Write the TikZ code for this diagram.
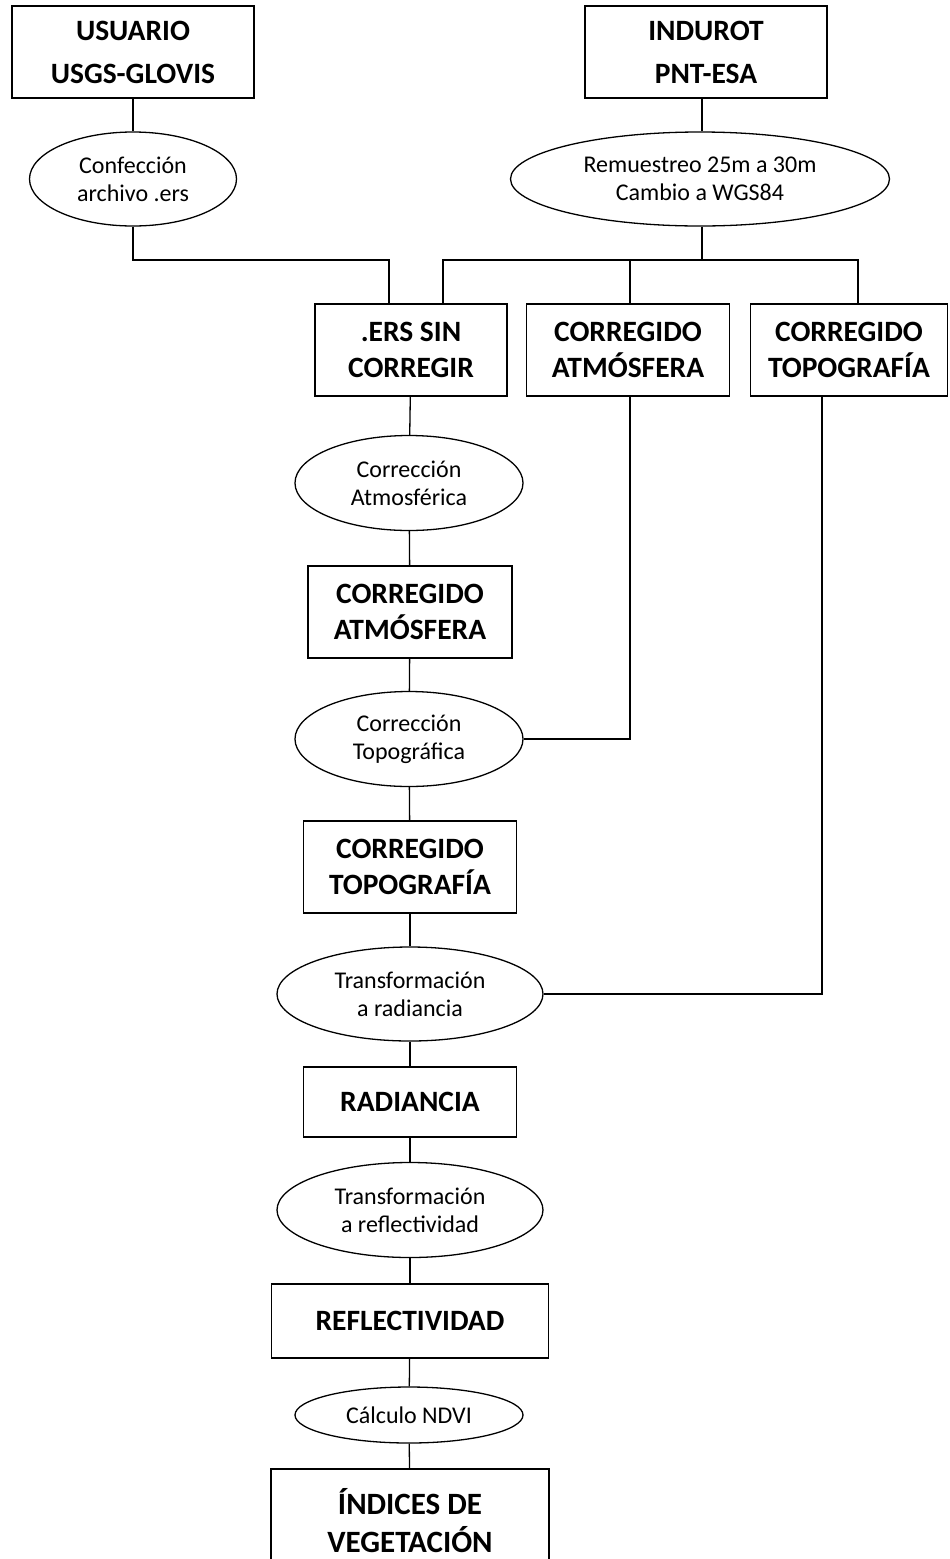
\documentclass[tikz,border=0pt]{standalone}
\usepackage{fontspec}
\setmainfont{Carlito}
\usetikzlibrary{shapes.geometric}
\begin{document}
\begin{tikzpicture}[x=1pt,y=-1pt,line width=1.3pt,
 box/.style={draw, rectangle, inner sep=0pt, align=center, font=\fontsize{29.5}{36}\selectfont\bfseries},
 topbox/.style={box, font=\fontsize{29.5}{43}\selectfont\bfseries},
 proc/.style={draw, ellipse, inner sep=0pt, align=center, font=\fontsize{24}{28}\selectfont},
]
\useasboundingbox (0,0) rectangle (950,1559);
% top sources
\node[topbox, minimum width=242pt, minimum height=92pt] (usuario) at (133,52) {USUARIO\\USGS-GLOVIS};
\node[topbox, minimum width=242pt, minimum height=92pt] (indurot) at (706,52) {INDUROT\\PNT-ESA};
\node[proc, minimum width=207pt, minimum height=94pt] (confec) at (133,179) {Confección\\archivo .ers};
\node[proc, minimum width=379pt, minimum height=94pt] (remues) at (700,179) {Remuestreo 25m a 30m\\Cambio a WGS84};
% second row
\node[box, minimum width=192pt, minimum height=92pt] (ers) at (411,350) {.ERS SIN\\CORREGIR};
\node[box, minimum width=203pt, minimum height=92pt] (atmA) at (628,350) {CORREGIDO\\ATMÓSFERA};
\node[box, minimum width=197pt, minimum height=92pt] (topoA) at (849,350) {CORREGIDO\\TOPOGRAFÍA};
% main column
\node[proc, minimum width=228pt, minimum height=95pt] (corrAtm) at (409,483) {Corrección\\Atmosférica};
\node[box, minimum width=204pt, minimum height=92pt] (atmB) at (410,612) {CORREGIDO\\ATMÓSFERA};
\node[proc, minimum width=228pt, minimum height=95pt] (corrTopo) at (409,739) {Corrección\\Topográfica};
\node[box, minimum width=213pt, minimum height=92pt] (topoB) at (410,867) {CORREGIDO\\TOPOGRAFÍA};
\node[proc, minimum width=266pt, minimum height=94pt] (transRad) at (410,994) {Transformación\\a radiancia};
\node[box, minimum width=213pt, minimum height=70pt] (rad) at (410,1102) {RADIANCIA};
\node[proc, minimum width=266pt, minimum height=95pt] (transRef) at (410,1210) {Transformación\\a reflectividad};
\node[box, minimum width=277pt, minimum height=74pt] (refl) at (410,1321) {REFLECTIVIDAD};
\node[proc, minimum width=228pt, minimum height=56pt] (ndvi) at (409,1415) {Cálculo NDVI};
\node[box, minimum width=278pt, minimum height=104pt, font=\fontsize{31}{38}\selectfont\bfseries] (indices) at (410,1521) {ÍNDICES DE\\VEGETACIÓN};
% junction coordinates
\coordinate (jL) at (389,260);
\coordinate (jR) at (702,260);
\coordinate (jR1) at (443,260);
\coordinate (jR2) at (630,260);
\coordinate (jR3) at (858,260);
% connectors
\draw (usuario) -- (confec);
\draw (indurot.south -| jR) -- (remues.north -| jR);
\draw (confec.south) |- (jL) -- (jL |- ers.north);
\draw (remues.south -| jR) -- (jR);
\draw (jR1 |- ers.north) -- (jR1) -- (jR3) -- (jR3 |- topoA.north);
\draw (jR2) -- (jR2 |- atmA.north);
\draw (ers) -- (corrAtm);
\draw (corrAtm) -- (atmB);
\draw (atmB) -- (corrTopo);
\draw (corrTopo) -- (topoB);
\draw (topoB) -- (transRad);
\draw (transRad) -- (rad);
\draw (rad) -- (transRef);
\draw (transRef) -- (refl);
\draw (refl) -- (ndvi);
\draw (ndvi) -- (indices);
\draw (atmA.south -| jR2) |- (corrTopo.east);
\draw (topoA.south -| 822,0) |- (transRad.east);
\end{tikzpicture}
\end{document}
